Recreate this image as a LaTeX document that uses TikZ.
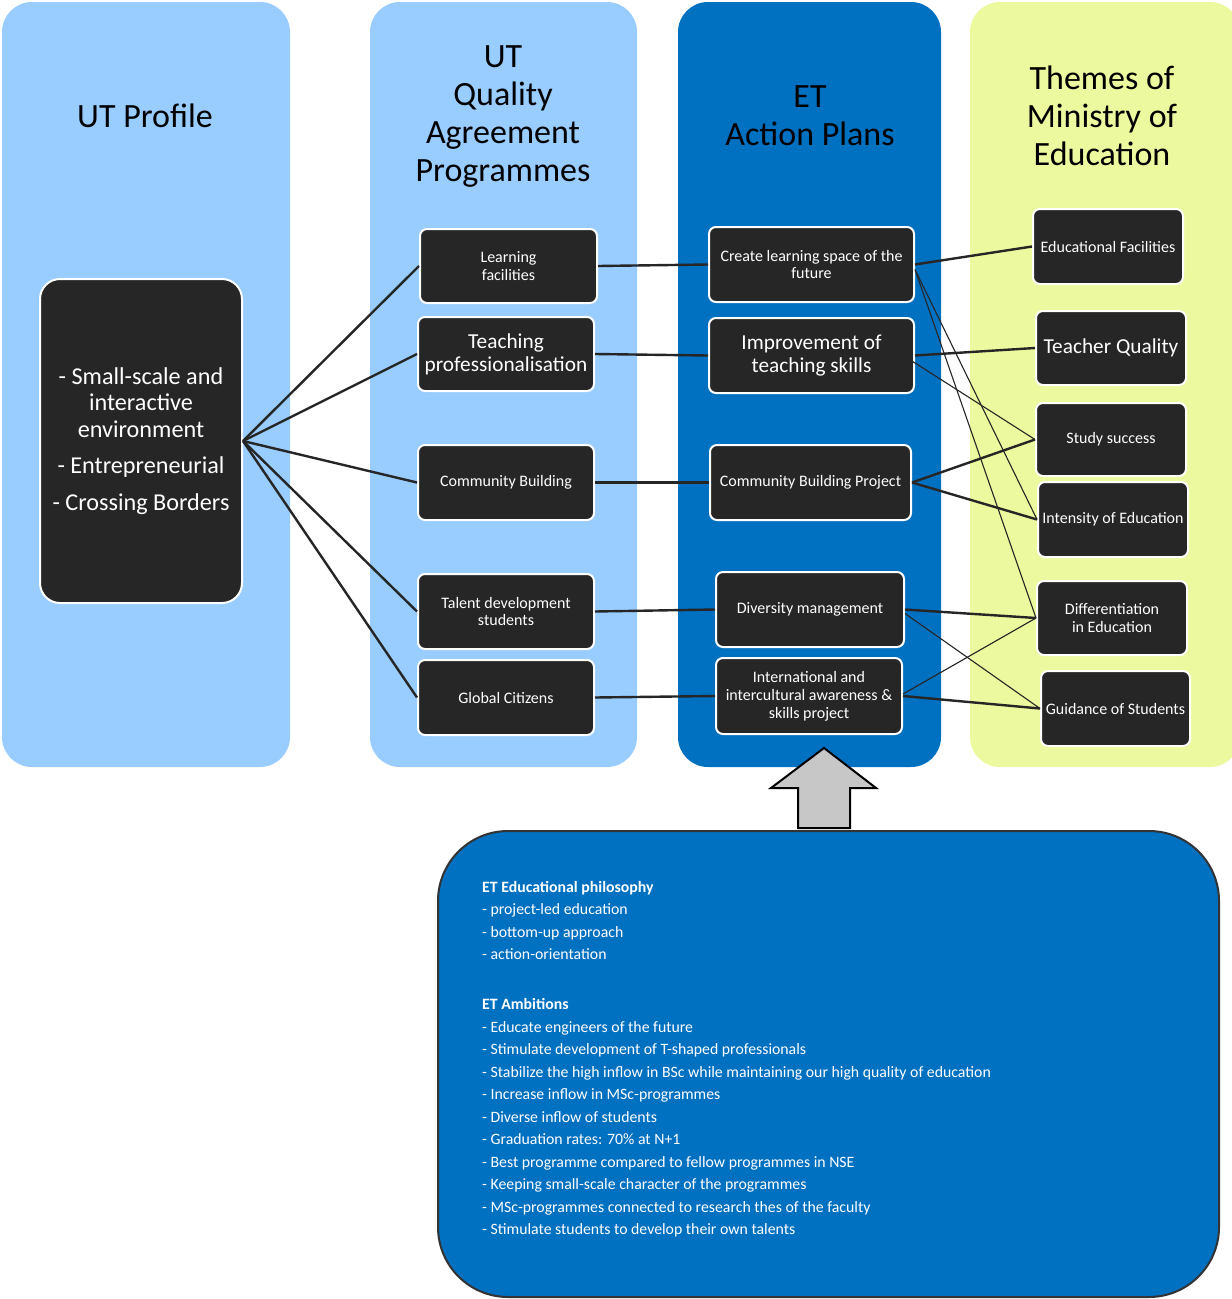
\documentclass[tikz,border=0pt]{standalone}
\usepackage{fontspec}
\setmainfont{Carlito}

\definecolor{paleblue}{HTML}{99CCFF}
\definecolor{etblue}{HTML}{0070C0}
\definecolor{paleyellow}{HTML}{EDF99E}
\definecolor{boxgray}{HTML}{262626}

\tikzset{
    item/.style={draw=white, line width=2pt, fill=boxgray, text=white,
        rounded corners=7pt, align=center, inner sep=1pt,
        font=\fontsize{16}{17.5}\selectfont},
    bigitem/.style={item, font=\fontsize{21.3}{23}\selectfont},
    column/.style={rounded corners=30pt},
    title/.style={align=center, font=\fontsize{34}{37.7}\selectfont},
    link/.style={line width=2.4pt, draw=black!85},
    thinlink/.style={line width=1.1pt, draw=black!85},
}

\begin{document}
\begin{tikzpicture}[x=1pt,y=-1pt]
    \useasboundingbox (0,0) rectangle (1232,1299);

    % Draw the four columns
    \fill[column,paleblue] (2,2) rectangle (290,767);
    \fill[column,paleblue] (370,2) rectangle (637,767);
    \fill[column,etblue] (678,2) rectangle (941,767);
    \fill[column,paleyellow] (970,2) rectangle (1240,767);

    % Column titles
    \node[title] (tprofile) at (145,116) {UT Profile};
    \node[title] (tqap) at (503,116.5) {UT\\Quality\\Agreement\\Programmes};
    \node[title] (tplans) at (810,116) {ET\\Action Plans};
    \node[title] (tthemes) at (1102,116) {Themes of\\Ministry of\\Education};

    % UT profile
    \node[item, rounded corners=20pt, minimum width=202pt, minimum height=324pt,
        font=\fontsize{24.2}{26.5}\selectfont] (pf) at (141,441)
        {- Small-scale and\\interactive\\environment\\[10pt]- Entrepreneurial\\[10pt]- Crossing Borders};

    % Quality agreement programmes
    \node[item, minimum width=177pt, minimum height=74pt] (lf) at (508.5,266) {Learning\\facilities};
    \node[bigitem, minimum width=176pt, minimum height=74pt] (tp) at (506,354) {Teaching\\professionalisation};
    \node[item, minimum width=176pt, minimum height=75pt] (cb) at (506,482.5) {Community Building};
    \node[item, minimum width=176pt, minimum height=75pt] (td) at (506,611.5) {Talent development\\students};
    \node[item, minimum width=176pt, minimum height=75pt] (gc) at (506,697.5) {Global Citizens};

    % Action plans
    \node[item, minimum width=205pt, minimum height=75pt] (cl) at (811.5,264.5) {Create learning space of the\\future};
    \node[bigitem, minimum width=205pt, minimum height=75pt] (it) at (811.5,355.5) {Improvement of\\teaching skills};
    \node[item, minimum width=201pt, minimum height=75pt] (cbp) at (810.5,482.5) {Community Building Project};
    \node[item, minimum width=188pt, minimum height=75pt] (dm) at (810,609.5) {Diversity management};
    \node[item, minimum width=186pt, minimum height=76pt, font=\fontsize{16}{18}\selectfont] (ia) at (809,696)
        {International and\\intercultural awareness \&\\skills project};

    % Themes of the ministry
    \node[item, minimum width=150pt, minimum height=75pt] (ef) at (1108,246.5) {Educational Facilities};
    \node[bigitem, minimum width=150pt, minimum height=74pt] (tq) at (1111,348) {Teacher Quality};
    \node[item, minimum width=150pt, minimum height=73pt] (ss) at (1111,439.5) {Study success};
    \node[item, minimum width=150pt, minimum height=75pt] (ie) at (1113,519.5) {Intensity of Education};
    \node[item, minimum width=150pt, minimum height=74pt] (de) at (1112,618) {Differentiation\\in Education};
    \node[item, minimum width=149pt, minimum height=75pt] (gs) at (1115.5,708.5) {Guidance of Students};

    % Connect profile to programmes
    \foreach \n in {lf,tp,cb,td,gc}
        \draw[link] (pf.east) -- (\n.west);

    % Connect programmes to action plans
    \foreach \a/\b in {lf/cl,tp/it,cb/cbp,td/dm,gc/ia}
        \draw[link] (\a.east) -- (\b.west);

    % Connect action plans to themes
    \foreach \a/\b in {cl/ef,it/tq,cbp/ss,cbp/ie,dm/de,ia/gs}
        \draw[link] (\a.east) -- (\b.west);
    \draw[thinlink] ([yshift=-5pt]cl.east) -- (ie.west);
    \draw[thinlink] ([yshift=-5pt]cl.east) -- (de.west);
    \draw[thinlink] ([xshift=-7pt,yshift=-3pt]it.east) -- (ss.west);
    \draw[thinlink] ([yshift=-4pt]dm.east) -- (gs.west);
    \draw[thinlink] ([yshift=2pt]ia.east) -- (de.west);

    % Educational philosophy and ambitions
    \node[draw=black!80, line width=2pt, fill=etblue, rounded corners=70pt,
        minimum width=781pt, minimum height=466pt] (eb) at (828.5,1064) {};
    \node[anchor=north west, align=left, text=white, inner sep=0pt,
        font=\fontsize{15.8}{22.5}\selectfont] (ebtext) at (482,881) {%
        \textbf{ET Educational philosophy}\\
        - project-led education\\
        - bottom-up approach\\
        - action-orientation\\[27.5pt]
        \textbf{ET Ambitions}\\
        - Educate engineers of the future\\
        - Stimulate development of T-shaped professionals\\
        - Stabilize the high inflow in BSc while maintaining our high quality of education\\
        - Increase inflow in MSc-programmes\\
        - Diverse inflow of students\\
        - Graduation rates: 70\% at N+1\\
        - Best programme compared to fellow programmes in NSE\\
        - Keeping small-scale character of the programmes\\
        - MSc-programmes connected to research thes of the faculty\\
        - Stimulate students to develop their own talents};

    % Block arrow up to the action plans
    \draw[line width=2pt, fill=black!22, line join=miter]
        (824,748) -- (876,788) -- (850,788) -- (850,828)
        -- (798,828) -- (798,788) -- (771,788) -- cycle;

\end{tikzpicture}
\end{document}
